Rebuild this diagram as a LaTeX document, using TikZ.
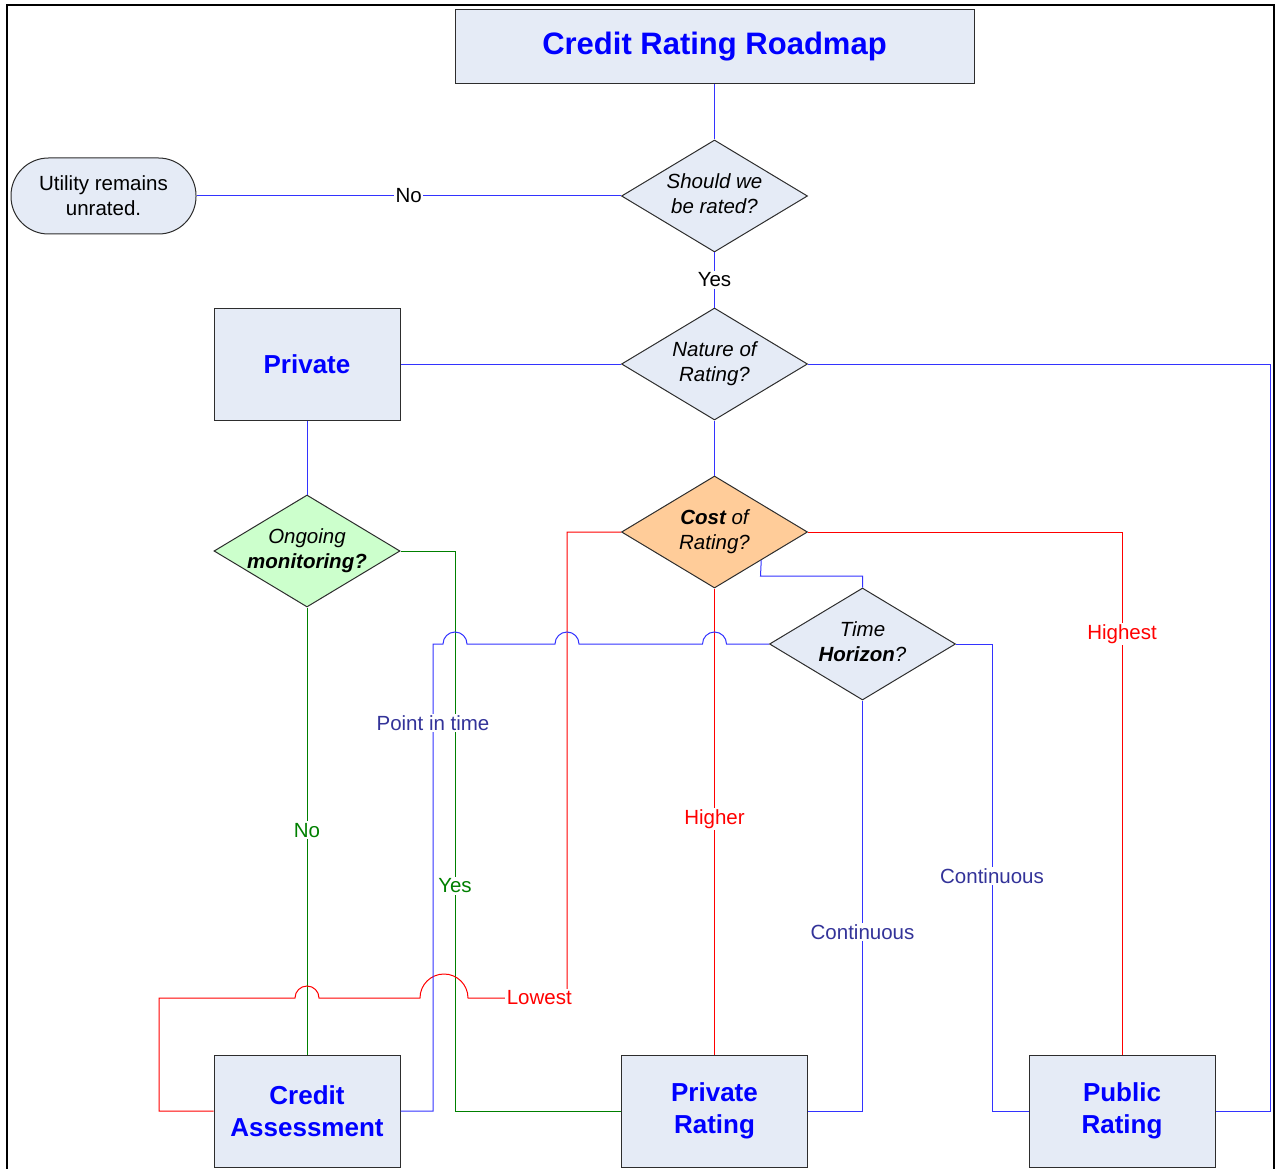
\documentclass[tikz,border=0pt]{standalone}
\usepackage{fontspec}
\setmainfont{Liberation Sans}
\usetikzlibrary{shapes.geometric,calc}
\definecolor{lnblue}{RGB}{51,51,255}
\definecolor{lnred}{RGB}{255,0,0}
\definecolor{lngreen}{RGB}{0,128,0}
\definecolor{lbblue}{RGB}{51,51,153}
\definecolor{boxfill}{RGB}{229,235,246}
\definecolor{boxtxt}{RGB}{0,0,255}
\definecolor{costfill}{RGB}{255,204,153}
\definecolor{monfill}{RGB}{204,255,204}
\definecolor{edgec}{RGB}{45,45,45}
\begin{document}
\begin{tikzpicture}[x=1pt,y=-1pt,
  box/.style={draw=edgec, line width=1pt, fill=boxfill, minimum width=186pt, minimum height=112pt, inner sep=0pt, align=center, text=boxtxt, font=\fontsize{26}{32}\selectfont\bfseries},
  dia/.style={diamond, draw=edgec, line width=1pt, fill=boxfill, minimum width=186pt, minimum height=112pt, inner sep=0pt, aspect=1.66, font=\fontsize{20.5}{25}\selectfont\itshape},
  pill/.style={draw=edgec, line width=1pt, fill=boxfill, rounded corners=37.5pt, minimum width=185pt, minimum height=76pt, inner sep=0pt, align=center, font=\fontsize{20.5}{25}\selectfont},
  bl/.style={draw=lnblue, line width=1pt},
  rd/.style={draw=lnred, line width=1pt},
  gr/.style={draw=lngreen, line width=1pt},
  lab/.style={fill=white, inner sep=1.5pt, font=\fontsize{20.5}{25}\selectfont}
]
\useasboundingbox (0,0) rectangle (1280,1169);
\draw[line width=2.5pt] (7,1172) -- (7,5) -- (1274,5) -- (1274,1172);

% nodes
\node[box, minimum width=519pt, minimum height=74pt, font=\fontsize{31}{36}\selectfont\bfseries] (title) at (714.5,47) {\raisebox{-2pt}{Credit Rating Roadmap}};
\node[dia] (rated) at (714.5,196) {\makebox[0pt]{\begin{tabular}{@{}c@{}}Should we\\be rated?\end{tabular}}};
\node[pill] (unrated) at (103.5,196) {Utility remains\\unrated.};
\node[dia] (nature) at (714.5,364) {\makebox[0pt]{\begin{tabular}{@{}c@{}}Nature of\\Rating?\end{tabular}}};
\node[box] (private) at (307,364) {Private};
\node[dia, fill=costfill] (cost) at (714.5,532) {\makebox[0pt]{\begin{tabular}{@{}c@{}}\textbf{Cost} of\\Rating?\end{tabular}}};
\node[dia, fill=monfill] (mon) at (307,551) {\makebox[0pt]{\begin{tabular}{@{}c@{}}Ongoing\\\textbf{monitoring?}\end{tabular}}};
\node[dia] (time) at (862.5,644) {\makebox[0pt]{\begin{tabular}{@{}c@{}}Time\\\textbf{Horizon}?\end{tabular}}};
\node[box] (ca) at (307,1111) {Credit\\Assessment};
\node[box] (pr) at (714.5,1111) {Private\\Rating};
\node[box] (pub) at (1122,1111) {Public\\Rating};

% bend coordinates
\coordinate (natR) at (1270,364);
\coordinate (natRB) at (1270,1111);
\coordinate (gA) at (455,551);
\coordinate (gB) at (455,1111);
\coordinate (rA) at (567,532);
\coordinate (rB) at (567,998);
\coordinate (rC) at (159,998);
\coordinate (rD) at (159,1111);
\coordinate (bA) at (433,644);
\coordinate (bB) at (433,1111);
\coordinate (tA) at (760.5,576);
\coordinate (tB) at (862.5,576);
\coordinate (cA) at (992,644);
\coordinate (cB) at (992,1111);
\coordinate (pA) at (862.5,1111);

% connectors
\draw[bl] (title.south) -- (rated.north);
\draw[bl] (rated.west) -- node[lab]{No} (unrated.east);
\draw[bl] (rated.south) -- node[lab]{Yes} (nature.north);
\draw[bl] (nature.west) -- (private.east);
\draw[bl] (nature.east) -- (natR) -- (natRB) -- (pub.east);
\draw[bl] (nature.south) -- (cost.north);
\draw[bl] (private.south) -- (mon.north);
\draw[gr] (mon.south) -- node[lab, text=lngreen, pos=0.498]{No} (ca.north);
\draw[gr] (mon.east) -- (gA) -- node[lab, text=lngreen, pos=0.598]{Yes} (gB) -- (pr.west);
\draw[rd] (cost.south) -- node[lab, text=lnred, pos=0.495]{Higher} (pr.north);
\draw[rd] (cost.east) -| node[lab, text=lnred, pos=0.598]{Highest} (pub.north);
\draw[rd] (cost.west) -- (rA) -- (rB) -- node[lab, text=lnred, pos=0.28]{Lowest} (468,998)
   arc[start angle=0, end angle=-180, radius=24] -- (319,998)
   arc[start angle=0, end angle=-180, radius=12] -- (rC) -- (rD) -- (ca.west);
\draw[bl] (cost.south east) -- (tA) -- (tB) -- (time.north);
\draw[bl] (time.west) -- ($(cost.south |- time.west)+(12,0)$)
   arc[start angle=0, end angle=-180, radius=12] -- ($(rA |- time.west)+(12,0)$)
   arc[start angle=0, end angle=-180, radius=12] -- ($(gA |- time.west)+(12,0)$)
   arc[start angle=0, end angle=-180, radius=12] -- (bA) -- node[lab, text=lbblue, pos=0.169]{Point in time} (bB) -- (ca.east);
\draw[bl] (time.south) -- node[lab, text=lbblue, pos=0.564]{Continuous} (pA) -- (pr.east);
\draw[bl] (time.east) -- (cA) -- node[lab, text=lbblue, pos=0.497]{Continuous} (cB) -- (pub.west);
\end{tikzpicture}
\end{document}
